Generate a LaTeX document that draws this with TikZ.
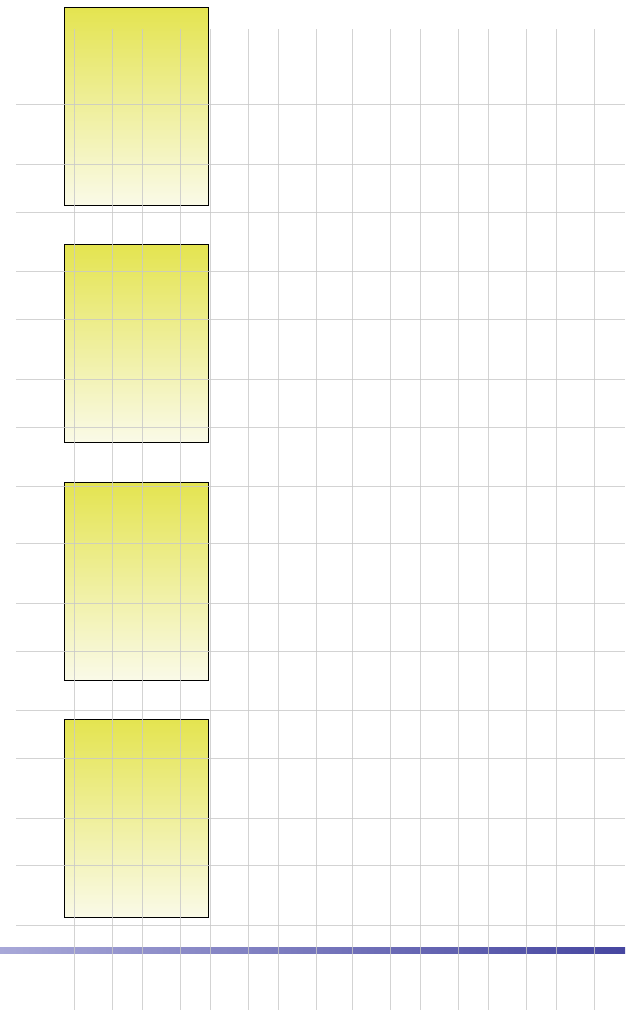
\documentclass[tikz,border=0pt]{standalone}
\usepackage{xcolor}
\usepackage{tikz}
\usetikzlibrary{positioning}
\definecolor{myyellow}{RGB}{228,228,80}
\definecolor{mypale}{RGB}{250,250,232}
\definecolor{mygrid}{RGB}{200,200,200}
\definecolor{bluelight}{RGB}{168,168,216}
\definecolor{bluedark}{RGB}{70,70,160}
\tikzset{
  frame/.style={rectangle, draw=black, line width=1pt,
    top color=myyellow, bottom color=mypale,
    minimum width=144pt, minimum height=198pt, inner sep=0pt},
  gridline/.style={draw=mygrid, line width=1pt, opacity=0.8}
}
\begin{document}
\begin{tikzpicture}[x=1pt, y=-1pt]
  \useasboundingbox (0,0) rectangle (625,1010);
  % Base band
  \shade[left color=bluelight, right color=bluedark] (0,947) rectangle (625,953);
  % Frames
  \node[frame, anchor=north west] (frame1) at (64,7) {};
  \node[frame, below=38.3pt of frame1] (frame2) {};
  \node[frame, below=38.3pt of frame2] (frame3) {};
  \node[frame, below=38.3pt of frame3] (frame4) {};
  % Grid
  \foreach \x in {74,112,142,180,210,248,278,316,352,390,420,458,488,526,556,594}
    \draw[gridline] (\x,29) -- (\x,1010);
  \foreach \y in {104,164,212,271,319,379,427,486,543,603,651,710,758,818,865,925}
    \draw[gridline] (16,\y) -- (625,\y);
\end{tikzpicture}
\end{document}
